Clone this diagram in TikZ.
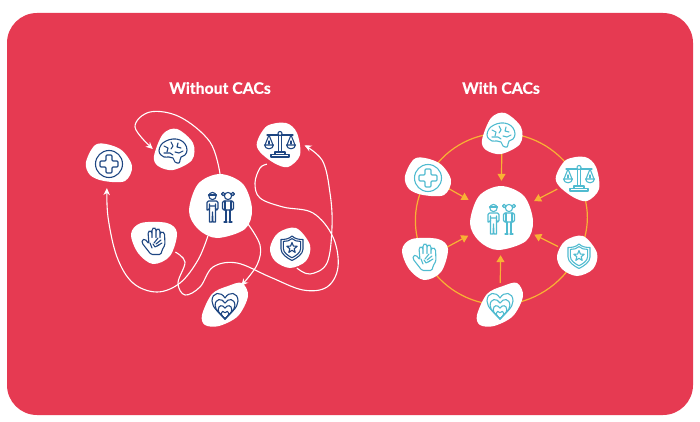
\documentclass[tikz,border=0pt]{standalone}
\usepackage{fontspec}
\setmainfont[BoldFeatures={FakeBold=0.6}]{Lato}
\usetikzlibrary{arrows.meta}
\definecolor{cardred}{RGB}{230,58,82}
\definecolor{iconnavy}{RGB}{30,70,130}
\definecolor{iconteal}{RGB}{80,187,208}
\definecolor{ringgold}{RGB}{248,178,52}
\tikzset{
  title/.style = {white, font=\bfseries\fontsize{15.8}{18}\selectfont},
  spot/.style = {circle, inner sep=0pt, minimum size=#1},
  navyline/.style = {draw=iconnavy, line width=1.1pt, line join=round, line cap=round},
  tealline/.style = {draw=iconteal, line width=1.1pt, line join=round, line cap=round},
  route/.style = {white, line width=1.1pt},
  routetip/.style = {-{Stealth[length=7pt,width=6.5pt]}},
  ring/.style = {ringgold, line width=1.2pt},
  feed/.style = {ringgold, line width=1.2pt, -{Triangle[length=7pt,width=8pt]}},
  crosspic/.pic = {
    \fill[white] plot[smooth cycle, tension=.55] coordinates
      {(-23,-1) (-12,-19) (11,-14) (23,3) (16,18) (-5,18) (-19,12)};
    \draw[pic actions] (0,1) circle (13.5);
    \draw[pic actions, rounded corners=1pt] (-3,-8) -- (3,-8) -- (3,-2) -- (9,-2) -- (9,4)
      -- (3,4) -- (3,10) -- (-3,10) -- (-3,4) -- (-9,4) -- (-9,-2) -- (-3,-2) -- cycle;
  },
  brainpic/.pic = {
    \fill[white] plot[smooth cycle, tension=.55] coordinates
      {(-20,7) (-11,-15) (3,-20) (19,-6) (18,11) (-1,21) (-16,17)};
    \begin{scope}[shift={(-1,2)}]
      \draw[pic actions] plot[smooth cycle, tension=.7] coordinates
        {(-14,0) (-12,-6) (-7,-10) (0,-12) (7,-11) (12,-7) (14,-1) (12,4) (8,6)
         (7,9) (6,12) (2,11) (0,7) (-4,6) (-9,6) (-12,4)};
      \draw[pic actions] (-9,-5) -- (-5,-3) -- (-6,1);
      \draw[pic actions] (-2,-9) -- (0,-5) -- (-2,-2);
      \draw[pic actions] (5,-8) -- (4,-4) -- (8,-3);
      \draw[pic actions] (-9,2) -- (-3,2) -- (0,4);
      \draw[pic actions] (2,1) -- (6,2) -- (10,0);
    \end{scope}
  },
  scalepic/.pic = {
    \fill[white] plot[smooth cycle, tension=.55] coordinates
      {(-21,-3) (-11,-19) (8,-22) (19,-12) (22,10) (10,22) (-4,18) (-18,7)};
    \begin{scope}[shift={(2,-1)}]
      \draw[pic actions] (-13,-9) -- (-2,-9) (2,-9) -- (13,-9);
      \draw[pic actions] (0,-10.5) circle (2);
      \draw[pic actions] (-1.8,-8.5) -- (-1.8,8) (1.8,-8.5) -- (1.8,8);
      \draw[pic actions] (-5,8) rectangle (5,10.5);
      \draw[pic actions] (-9,10.5) rectangle (9,13);
      \foreach \side in {-1,1} {
        \draw[pic actions] (\side*11,-9) -- (\side*15,1) (\side*11,-9) -- (\side*7,1);
        \draw[pic actions] (\side*15.5,1) -- (\side*6.5,1) .. controls (\side*7,6) and (\side*15,6) .. (\side*15.5,1);
        \draw[pic actions] (\side*11,-3) -- (\side*11,0);
      }
    \end{scope}
  },
  kidspic/.pic = {
    \fill[white] plot[smooth cycle, tension=.55] coordinates
      {(-31,5) (-22,-22) (0,-32) (23,-22) (32,3) (25,23) (-3,32) (-22,23)};
    \begin{scope}[shift={(0,1)}]
      % boy
      \draw[pic actions] (-7.5,-11) circle (3.6);
      \draw[pic actions] (-11.5,-12) -- (-3.5,-12);
      \draw[pic actions, rounded corners=1.5pt] (-13,3) -- (-13,-6) -- (-2,-6) -- (-2,3)
        -- (-4.5,3) -- (-4.5,-3) (-13,3) -- (-10.5,3) -- (-10.5,-3);
      \draw[pic actions] (-10.5,-1) -- (-4.5,-1) (-10.5,1) -- (-10.5,15) -- (-8,15) -- (-7.5,5)
        -- (-7,15) -- (-4.5,15) -- (-4.5,1);
      % girl
      \draw[pic actions] (8,-11) circle (3.6);
      \draw[pic actions] (3.2,-13) circle (1.7) (12.8,-13) circle (1.7);
      \draw[pic actions, rounded corners=1.5pt] (2.5,3) -- (2.5,-6) -- (13.5,-6) -- (13.5,3) -- cycle;
      \draw[pic actions] (5,-6) -- (5,3) (11,-6) -- (11,3);
      \draw[pic actions] (6,3) -- (6,15) (10,3) -- (10,15) (4,15) -- (7,15) (9,15) -- (12,15);
    \end{scope}
  },
  handpic/.pic = {
    \fill[white] plot[smooth cycle, tension=.55] coordinates
      {(-23,-9) (-13,-20) (13,-20) (23,-10) (16,13) (-1,21) (-16,10)};
    \begin{scope}[shift={(0,-2)}]
      \draw[pic actions, rounded corners=1.5pt] (-5,3) -- (-6,-9) -- (-4,-10.5) -- (-2,-9) -- (-2,-2)
        -- (-2,-12) -- (0,-13.5) -- (2,-12) -- (2,-2) -- (2,-11) -- (4,-12.5) -- (6,-11) -- (6,-2)
        -- (6,-8) -- (8,-9.5) -- (10.5,-8) -- (11,4) -- (8,9) -- (7,13.5) -- (-3,13.5) -- (-12,2)
        -- (-12,-1) -- (-9,-2) -- cycle;
      \draw[pic actions] (-2,7) -- (-4,2) (-1,3) -- (1,6) -- (5,4);
      \draw[pic actions] (0,2) -- (4,-3) (2,3) -- (7,-1) (3,5) -- (8,2);
    \end{scope}
  },
  shieldpic/.pic = {
    \fill[white] plot[smooth cycle, tension=.55] coordinates
      {(-20,0) (-12,-15) (6,-20) (20,-3) (16,13) (0,20) (-15,13)};
    \begin{scope}[shift={(2,0)}]
      \foreach \s in {1,.78} {
        \draw[pic actions, scale=\s] (0,-12) .. controls (3,-9) and (7,-8.5) .. (11,-8.5)
          -- (11,1) .. controls (11,6) and (5,10) .. (0,12.5)
          .. controls (-5,10) and (-11,6) .. (-11,1) -- (-11,-8.5)
          .. controls (-7,-8.5) and (-3,-9) .. (0,-12) -- cycle;
      }
      \draw[pic actions] (0,-5.5) -- (1.4,-1.9) -- (5.2,-1.7) -- (2.2,.7) -- (3.2,4.4) -- (0,2.3)
        -- (-3.2,4.4) -- (-2.2,.7) -- (-5.2,-1.7) -- (-1.4,-1.9) -- cycle;
    \end{scope}
  },
  heartpic/.pic = {
    \fill[white] plot[smooth cycle, tension=.55] coordinates
      {(-23,10) (-13,-11) (3,-19) (17,-22) (23,-9) (13,11) (-6,21) (-20,20)};
    \foreach \s in {1,.76,.52,.3} {
      \draw[pic actions, shift={(0,14)}, scale=\s, shift={(0,-14)}]
        (0,-7) .. controls (-4,-14) and (-13,-13) .. (-13,-4)
        .. controls (-13,3) and (-5,8) .. (0,14)
        .. controls (5,8) and (13,3) .. (13,-4)
        .. controls (13,-13) and (4,-14) .. (0,-7) -- cycle;
    }
  }
}
\begin{document}
\begin{tikzpicture}[x=1pt, y=-1pt]
  \useasboundingbox (0,0) rectangle (700,422);
  \fill[cardred, rounded corners=30pt] (7,13) rectangle (693,415);

  \node [title] (titleL) at (220,88) {Without CACs};
  \node [title] (titleR) at (501,88) {With CACs};

  % without
  \node [spot=46] (crossL) at (109,163) {};
  \node [spot=42] (brainL) at (174,149) {};
  \node [spot=44] (scaleL) at (278,145) {};
  \node [spot=64] (kidsL) at (220,206) {};
  \node [spot=46] (handL) at (154,243) {};
  \node [spot=42] (shieldL) at (290,248) {};
  \node [spot=50] (heartL) at (225,305) {};

  \draw [route, routetip] plot[smooth, tension=.6] coordinates {(kidsL.90) (210,142) (180,117)
    (150,112) (135,127) (brainL.180)};
  \draw [route, routetip, shorten >=2pt] plot[smooth, tension=.6] coordinates {(kidsL.248) (198,260) (180,283)
    (157,292) (133,283) (117,257) (108,217) (crossL.265)};
  \draw [route, routetip] plot[smooth, tension=.6] coordinates {(kidsL.328) (260,245) (257,265)
    (heartL.50)};
  \draw [route] plot[smooth, tension=.6] coordinates {(handL.337) (185,262) (178,283) (185,295)
    (200,287) (213,267) (237,263) (270,277) (303,290) (327,287) (338,267) (333,237) (313,213)
    (283,207) (260,198) (255,183) (260,168) (scaleL.240)};
  \draw [route, routetip, shorten >=5pt] plot[smooth, tension=.6] coordinates {(shieldL.289) (310,274)
    (327,263) (332,227) (330,193) (322,160) (scaleL.5)};

  \pic [navyline] at (crossL) {crosspic};
  \pic [navyline] at (brainL) {brainpic};
  \pic [navyline] at (scaleL) {scalepic};
  \pic [navyline] at (kidsL) {kidspic};
  \pic [navyline] at (handL) {handpic};
  \pic [navyline] at (shieldL) {shieldpic};
  \pic [navyline] at (heartL) {heartpic};

  % with
  \node [spot=44] (crossR) at (428,177) {};
  \node [spot=42] (brainR) at (502,133) {};
  \node [spot=44] (scaleR) at (577,179) {};
  \node [spot=64] (kidsR) at (501,218) {};
  \node [spot=44] (handR) at (425,259) {};
  \node [spot=42] (shieldR) at (577,256) {};
  \node [spot=44] (heartR) at (500,305) {};

  \foreach \from/\to in {brainR/scaleR, scaleR/shieldR, shieldR/heartR, heartR/handR,
    handR/crossR, crossR/brainR}
    \draw [ring] (\from.center) to [bend left=30, looseness=.92] (\to.center);

  \foreach \from in {crossR, brainR, scaleR, handR, shieldR, heartR}
    \draw [feed, shorten >=5pt] (\from) -- (kidsR);

  \pic [tealline] at (crossR) {crosspic};
  \pic [tealline] at (brainR) {brainpic};
  \pic [tealline] at (scaleR) {scalepic};
  \pic [tealline] at (kidsR) {kidspic};
  \pic [tealline] at (handR) {handpic};
  \pic [tealline] at (shieldR) {shieldpic};
  \pic [tealline] at (heartR) {heartpic};
\end{tikzpicture}
\end{document}
